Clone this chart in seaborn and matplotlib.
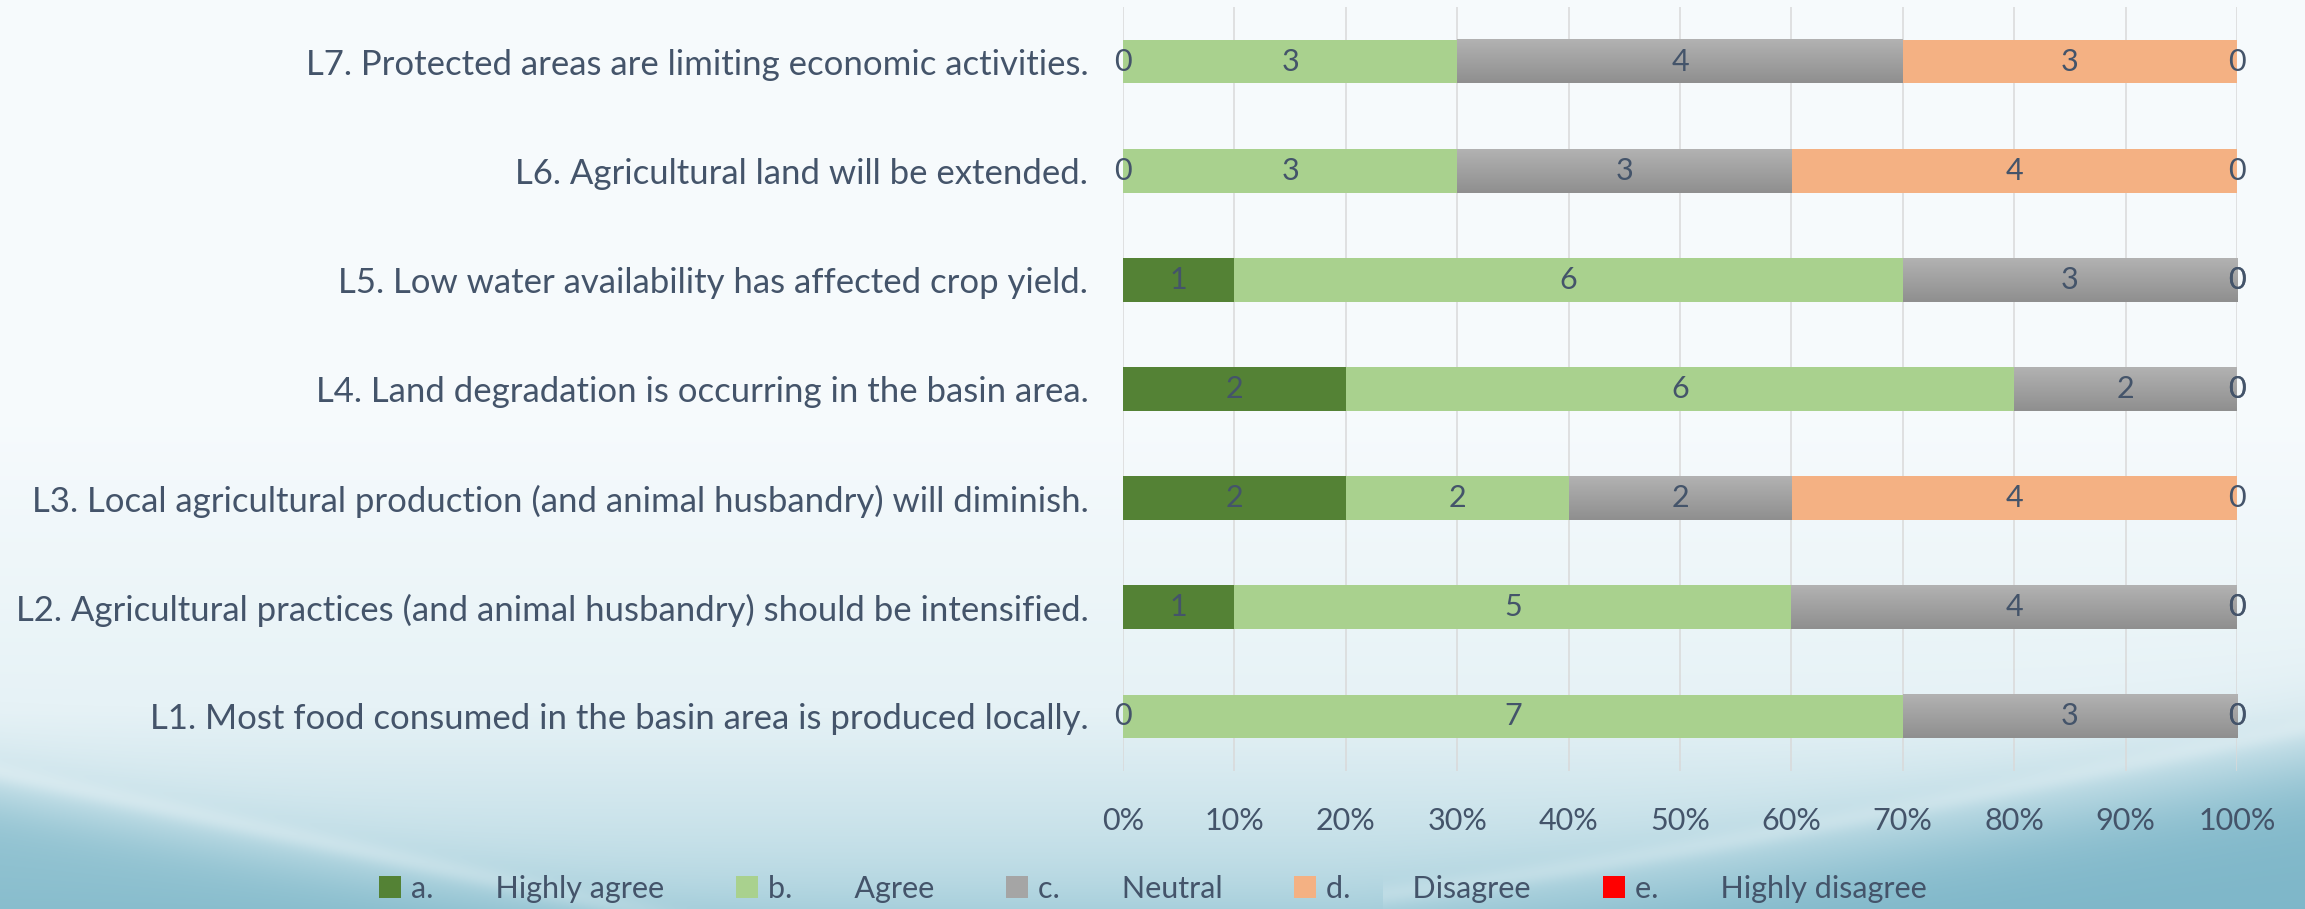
import numpy as np
import pandas as pd
import matplotlib
matplotlib.use("Agg")
import matplotlib.pyplot as plt
import seaborn as sns
from matplotlib.patches import Patch
from matplotlib.colors import to_rgb

# ---------------- data ----------------
categories = [
    "L7. Protected areas are limiting economic activities.",
    "L6. Agricultural land will be extended.",
    "L5. Low water availability has affected crop yield.",
    "L4. Land degradation is occurring in the basin area.",
    "L3. Local agricultural production (and animal husbandry) will diminish.",
    "L2. Agricultural practices (and animal husbandry) should be intensified.",
    "L1. Most food consumed in the basin area is produced locally.",
]
series_codes = ["a.", "b.", "c.", "d.", "e."]
series_names = ["Highly agree", "Agree", "Neutral", "Disagree", "Highly disagree"]
highly_agree = [0, 0, 1, 2, 2, 1, 0]
agree = [3, 3, 6, 6, 2, 5, 7]
neutral = [4, 3, 3, 2, 2, 4, 3]
disagree = [3, 4, 0, 0, 4, 0, 0]
highly_disagree = [0, 0, 0, 0, 0, 0, 0]
x_ticks = [0, 10, 20, 30, 40, 50, 60, 70, 80, 90, 100]

colors = ["#548235", "#A9D18E", "#A5A5A5", "#F4B183", "#FF0000"]
TXT = "#44546A"
FS = 22
FS_CAT = 25

cols = ["a", "b", "c", "d", "e"]
df = pd.DataFrame({"cat": categories, "a": highly_agree, "b": agree,
                   "c": neutral, "d": disagree, "e": highly_disagree})
pct = df[cols].div(df[cols].sum(axis=1), axis=0)
cum = pct.cumsum(axis=1)

sns.set_theme(style="white")
plt.rcParams["font.family"] = ["Lato", "DejaVu Sans"]

fig = plt.figure(figsize=(23.05, 9.09), dpi=100)

# ---------------- background ----------------
H, W = 909, 2305
yy, xx = np.mgrid[0:H, 0:W]
Y = yy / (H - 1)
X = xx / (W - 1)
c_top = np.array(to_rgb("#F7FBFD"))
c_mid = np.array(to_rgb("#E6F2F6"))
c_bot = np.array(to_rgb("#B8D9E3"))
t = np.clip((Y - 0.45) / 0.55, 0, 1)[..., None]
base = np.where(t < 0.6, c_top + (c_mid - c_top) * (t / 0.6),
                c_mid + (c_bot - c_mid) * np.clip((t - 0.6) / 0.4, 0, 1))

def sig(z):
    return 1.0 / (1.0 + np.exp(-z))

# left wave
yl = 0.88 + 0.55 * X
ml = sig((Y - yl) / 0.02)[..., None]
dark_l = np.array(to_rgb("#86BCCC"))
base = base * (1 - ml * 0.85) + dark_l * ml * 0.85
streak_l = np.exp(-((Y - (yl - 0.03)) / 0.012) ** 2)[..., None] * (X < 0.35)[..., None]
base = base * (1 - 0.25 * streak_l) + 0.25 * streak_l * np.array([1, 1, 1])

# right wave
u = np.clip((X - 0.58) / 0.42, 0, 1)
yr = 1.03 - 0.19 * u ** 1.2
mr = sig((Y - yr) / 0.03)[..., None]
dark_r = np.array(to_rgb("#78B3C6"))
base = base * (1 - mr * 0.9) + dark_r * mr * 0.9
streak_r = np.exp(-((Y - (yr - 0.04)) / 0.012) ** 2)[..., None] * (X > 0.6)[..., None]
base = base * (1 - 0.2 * streak_r) + 0.2 * streak_r * np.array([1, 1, 1])

bgax = fig.add_axes([0, 0, 1, 1], zorder=-10)
bgax.imshow(np.clip(base, 0, 1), aspect="auto", extent=(0, 1, 0, 1), origin="upper")
bgax.axis("off")

# ---------------- bars ----------------
ax = fig.add_axes([1123 / 2305, 1 - 771 / 909, (2237 - 1123) / 2305, (771 - 7) / 909])
ax.patch.set_alpha(0)
zorders = [2.5, 2.0, 1.0, 1.0, 1.0]
for k in reversed(range(5)):
    sns.barplot(x=cum[cols[k]].values, y=df["cat"], order=categories, orient="h",
                color=colors[k], saturation=1, width=0.4, errorbar=None,
                linewidth=0, ax=ax, zorder=zorders[k])

# containers order: e, d, c, b, a
cont_c = ax.containers[2]
cont_b = ax.containers[3]
grad = np.linspace(0, 1, 64)[:, None]
gcol = np.array(to_rgb("#B2B2B2")) * (1 - grad[..., None]) + np.array(to_rgb("#8F8F8F")) * grad[..., None]
gcol = gcol.reshape(64, 1, 3)
for pc, pb in zip(cont_c.patches, cont_b.patches):
    x0 = pb.get_x() + pb.get_width()
    x1 = pc.get_x() + pc.get_width()
    y0 = pc.get_y()
    h = pc.get_height()
    ax.imshow(gcol, aspect="auto", extent=(x0, x1, y0 + h, y0), origin="upper",
              interpolation="bilinear", zorder=1.5)

# data labels
for i in range(len(categories)):
    for k, c in enumerate(cols):
        v = df.loc[i, c]
        xc = cum.loc[i, c] - pct.loc[i, c] / 2
        ax.text(xc, i, f"{v}", ha="center", va="center", fontsize=FS, color=TXT, zorder=5)

ax.set_xlim(0, 1)
ax.set_ylim(6.5, -0.5)
ax.set_xticks(np.array(x_ticks) / 100)
ax.set_xticklabels([f"{v}%" for v in x_ticks])
ax.xaxis.grid(True, color="#D9D9D9", linewidth=1.1)
ax.yaxis.grid(False)
ax.set_axisbelow(True)
for s in ax.spines.values():
    s.set_visible(False)
ax.tick_params(axis="y", length=0, pad=25, labelsize=FS_CAT, labelcolor=TXT)
ax.tick_params(axis="x", length=0, pad=26, labelsize=FS, labelcolor=TXT)
ax.set_xlabel("")
ax.set_ylabel("")

# legend
handles = [Patch(facecolor=c, edgecolor="none") for c in colors]
labels = [f"{code}        {name}" for code, name in zip(series_codes, series_names)]
fig.legend(handles, labels, loc="center", bbox_to_anchor=(0.5, 1 - 889 / 909), ncol=5,
           frameon=False, fontsize=FS, handlelength=0.72, handleheight=0.72,
           handletextpad=0.33, columnspacing=2.35, labelcolor=TXT)

fig.savefig("out.png", dpi=100)
